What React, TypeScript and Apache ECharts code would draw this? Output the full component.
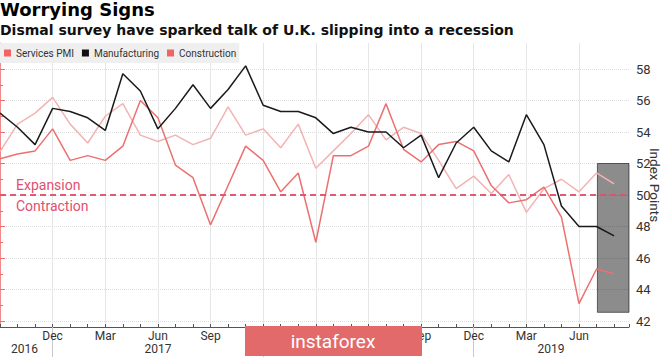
import React, { useEffect, useRef } from 'react';
import * as echarts from 'echarts';

// ---- Data ----
const months = [
  'Sep 2016', 'Oct 2016', 'Nov 2016', 'Dec 2016',
  'Jan 2017', 'Feb 2017', 'Mar 2017', 'Apr 2017', 'May 2017', 'Jun 2017',
  'Jul 2017', 'Aug 2017', 'Sep 2017', 'Oct 2017', 'Nov 2017', 'Dec 2017',
  'Jan 2018', 'Feb 2018', 'Mar 2018', 'Apr 2018', 'May 2018', 'Jun 2018',
  'Jul 2018', 'Aug 2018', 'Sep 2018', 'Oct 2018', 'Nov 2018', 'Dec 2018',
  'Jan 2019', 'Feb 2019', 'Mar 2019', 'Apr 2019', 'May 2019', 'Jun 2019',
  'Jul 2019', 'Aug 2019',
];

const services = [
  52.75, 54.5, 55.2, 56.2, 54.5, 53.3, 55.0, 55.8, 53.8, 53.4, 53.8, 53.2,
  53.6, 55.6, 53.8, 54.2, 53.0, 54.5, 51.7, 52.8, 53.9, 55.1, 53.5, 54.3,
  53.9, 52.2, 50.4, 51.2, 50.1, 51.3, 48.9, 50.4, 51.0, 50.2, 51.4, 50.7,
];

const manufacturing = [
  55.2, 54.3, 53.2, 55.5, 55.3, 54.9, 54.1, 57.7, 56.6, 54.2, 55.5, 57.0,
  55.5, 56.7, 58.2, 55.7, 55.3, 55.3, 54.9, 53.9, 54.3, 54.0, 54.0, 53.0,
  53.8, 51.1, 53.3, 54.3, 52.8, 52.1, 55.1, 53.2, 49.3, 48.0, 48.0, 47.4,
];

const construction = [
  52.3, 52.6, 52.8, 54.2, 52.2, 52.5, 52.2, 53.1, 56.0, 54.9, 51.9, 51.1,
  48.1, 50.6, 53.1, 52.2, 50.2, 51.4, 47.0, 52.5, 52.5, 53.1, 55.8, 52.9,
  52.1, 53.2, 53.4, 52.8, 50.6, 49.5, 49.7, 50.5, 48.6, 43.1, 45.3, 45.0,
];

// Year labels visible in the reference (2018 is covered by the watermark)
const yearLabels = ['2016', '2017', '2019'];
const yearLabelAt = [1.4, 9, 31.4];
const yearBreaks = [3, 15, 27];
// month labels hidden behind the watermark in the reference
const hiddenMonthLabels = [15, 18, 21];

const threshold = 50;
const highlightStart = 34.05;
const highlightRange = [42.55, 52];
const xMax = 35.85;

const F = 'Roboto, "DejaVu Sans", sans-serif';
const RED = '#ec7070';
const PINK = '#f3b3b3';
const DASH = '#e0506e';

function buildOption() {
  const toXY = (arr: number[]) => arr.map((v, i) => [i, v]);
  return {
    animation: false,
    backgroundColor: '#ffffff',
    title: [
      {
        text: 'Worrying Signs',
        left: 0,
        top: 0,
        padding: 0,
        textStyle: { fontFamily: 'DejaVu Sans', fontSize: 18, fontWeight: 'bold', color: '#000' },
      },
      {
        text: 'Dismal survey have sparked talk of U.K. slipping into a recession',
        left: 0,
        top: 23,
        padding: 0,
        textStyle: { fontFamily: 'DejaVu Sans', fontSize: 14, fontWeight: 'bold', color: '#111' },
      },
    ],
    legend: {
      left: 0,
      top: 43,
      padding: [5, 3, 5, 4],
      backgroundColor: '#efefef',
      itemWidth: 7,
      itemHeight: 7,
      itemGap: 8,
      icon: 'rect',
      textStyle: { fontFamily: F, fontSize: 10, color: '#333' },
      data: [
        { name: 'Services PMI', itemStyle: { color: '#f06464' } },
        { name: 'Manufacturing', itemStyle: { color: '#111' } },
        { name: 'Construction', itemStyle: { color: '#f06464' } },
      ],
    },
    grid: [
      { left: 0, right: 36, top: 69, bottom: 36, outerBoundsMode: 'none', containLabel: false },
      { left: 0, right: 36, top: 43, bottom: 30, outerBoundsMode: 'none', containLabel: false },
    ],
    xAxis: [
      {
        gridIndex: 0,
        type: 'value',
        min: 0,
        max: xMax,
        axisLine: { show: false },
        axisTick: { show: false },
        axisLabel: { show: false },
        splitLine: { show: false },
      },
      {
        gridIndex: 1,
        type: 'value',
        min: 0,
        max: xMax,
        interval: 3,
        position: 'bottom',
        axisLine: { show: true, lineStyle: { color: '#555', width: 1 } },
        axisTick: { show: true, inside: true, length: 3, lineStyle: { color: '#555' } },
        minorTick: { show: true, splitNumber: 3, length: 3, lineStyle: { color: '#555' } },
        axisLabel: {
          margin: 3,
          fontFamily: F,
          fontSize: 12,
          color: '#333',
          showMaxLabel: false,
          formatter: (v: number) => {
            if (v === 0 || !Number.isInteger(v) || !months[v]) return '';
            if (hiddenMonthLabels.indexOf(v) >= 0) return '';
            return months[v].slice(0, 3);
          },
        },
        splitLine: { show: true, showMinLine: false, showMaxLine: false, lineStyle: { color: '#e6e6e6', width: 1 } },
      },
      {
        gridIndex: 1,
        type: 'value',
        min: 0,
        max: xMax,
        position: 'bottom',
        axisLine: { show: false },
        axisTick: { show: true, inside: false, length: 30, customValues: yearBreaks, lineStyle: { color: '#c8c8c8' } },
        axisLabel: {
          margin: 16,
          fontFamily: F,
          fontSize: 12,
          color: '#333',
          customValues: yearLabelAt,
          formatter: (v: number) => {
            const k = yearLabelAt.indexOf(v);
            return k >= 0 ? yearLabels[k] : '';
          },
        },
        splitLine: { show: false },
      },
    ],
    yAxis: [
      {
        gridIndex: 0,
        type: 'value',
        min: 42,
        max: 58,
        interval: 2,
        position: 'right',
        axisLine: { show: false },
        axisTick: { show: true, length: 5, lineStyle: { color: RED } },
        minorTick: { show: true, splitNumber: 2, length: 3, lineStyle: { color: RED } },
        axisLabel: { margin: 7, fontFamily: F, fontSize: 13, color: '#333' },
        splitLine: { show: true, lineStyle: { color: '#dddddd', type: 'dotted', width: 1 } },
      },
      {
        gridIndex: 1,
        type: 'value',
        min: 0,
        max: 1,
        position: 'right',
        axisLine: { show: true, lineStyle: { color: '#f08a8a', width: 1 } },
        axisTick: { show: false },
        axisLabel: { show: false },
        splitLine: { show: false },
        name: 'Index Points',
        nameLocation: 'middle',
        nameRotate: -90,
        nameGap: 19,
        nameTextStyle: { fontFamily: F, fontSize: 13.5, color: '#333' },
      },
    ],
    series: [
      {
        name: 'Services PMI',
        type: 'line',
        xAxisIndex: 0,
        yAxisIndex: 0,
        data: toXY(services),
        showSymbol: false,
        clip: false,
        z: 2,
        lineStyle: { color: PINK, width: 1.5 },
        itemStyle: { color: PINK },
      },
      {
        name: 'Construction',
        type: 'line',
        xAxisIndex: 0,
        yAxisIndex: 0,
        data: toXY(construction),
        showSymbol: false,
        clip: false,
        z: 2,
        lineStyle: { color: RED, width: 1.5 },
        itemStyle: { color: RED },
      },
      {
        name: 'Manufacturing',
        type: 'line',
        xAxisIndex: 0,
        yAxisIndex: 0,
        data: toXY(manufacturing),
        showSymbol: false,
        clip: false,
        z: 2,
        lineStyle: { color: '#1a1a1a', width: 1.5 },
        itemStyle: { color: '#1a1a1a' },
      },
      {
        name: 'highlight',
        type: 'line',
        xAxisIndex: 0,
        yAxisIndex: 0,
        data: [],
        z: 3,
        silent: true,
        markArea: {
          silent: true,
          itemStyle: { color: 'rgba(0,0,0,0.45)', borderColor: 'rgba(0,0,0,0.55)', borderWidth: 1 },
          data: [[{ xAxis: highlightStart, yAxis: highlightRange[0] }, { xAxis: xMax, yAxis: highlightRange[1] }]],
        },
      },
      {
        name: 'threshold',
        type: 'line',
        xAxisIndex: 0,
        yAxisIndex: 0,
        data: [],
        z: 4,
        silent: true,
        markLine: {
          silent: true,
          symbol: ['none', 'none'],
          lineStyle: { color: DASH, width: 1.5, type: [6, 4] },
          data: [
            {
              yAxis: threshold,
              label: {
                show: true,
                position: 'insideStartTop',
                formatter: 'Expansion',
                distance: [16, 3],
                color: DASH,
                fontFamily: F,
                fontSize: 14,
              },
            },
            {
              yAxis: threshold,
              label: {
                show: true,
                position: 'insideStartBottom',
                formatter: 'Contraction',
                distance: [16, 4],
                color: DASH,
                fontFamily: F,
                fontSize: 14,
              },
            },
          ],
        },
      },
    ],
    graphic: [
      {
        type: 'rect',
        z: 100,
        shape: { x: 245, y: 326, width: 177, height: 30 },
        style: { fill: '#e36a6a' },
      },
      {
        type: 'text',
        z: 101,
        x: 333,
        y: 341,
        style: {
          text: 'instaforex',
          fill: '#ffffff',
          font: '19px Roboto',
          textAlign: 'center',
          textVerticalAlign: 'middle',
        },
      },
    ],
  };
}

export default function App() {
  const ref = useRef<HTMLDivElement>(null);
  useEffect(() => {
    if (!ref.current) return;
    const chart = echarts.init(ref.current, null, { renderer: 'svg' });
    chart.setOption(buildOption() as any);
    return () => chart.dispose();
  }, []);
  return (
    <div
      ref={ref}
      style={{ position: 'fixed', left: 0, top: 0, width: 665, height: 357, background: '#fff' }}
    />
  );
}
